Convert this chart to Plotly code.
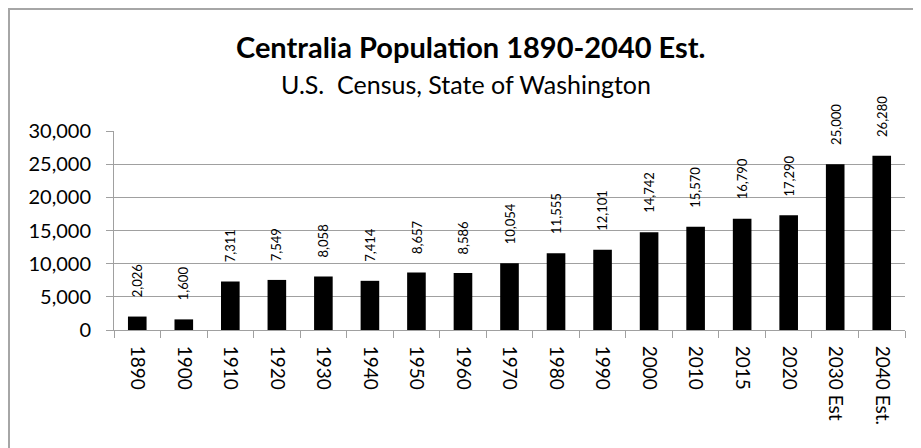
import plotly.graph_objects as go

categories = ["1890", "1900", "1910", "1920", "1930", "1940", "1950", "1960", "1970",
              "1980", "1990", "2000", "2010", "2015", "2020", "2030 Est", "2040 Est."]
population = [2026, 1600, 7311, 7549, 8058, 7414, 8657, 8586, 10054,
              11555, 12101, 14742, 15570, 16790, 17290, 25000, 26280]
y_ticks = [0, 5000, 10000, 15000, 20000, 25000, 30000]

title_text = "Centralia Population 1890-2040 Est."
subtitle_text = "U.S.  Census, State of Washington"

FONT = "Lato"
OFF = 8  # page body margin
W, H = 921 - OFF, 448 - OFF
L, R, T, B = 114 - OFF, 16, 131 - OFF, 118
pw, ph = W - L - R, H - T - B

fig = go.Figure()
fig.add_trace(go.Bar(
    x=categories, y=population,
    marker=dict(color="#000000", line=dict(color="#000000", width=0)),
    hoverinfo="x+y",
))

# data labels: x given as category index on the category axis
for i, v in enumerate(population):
    fig.add_annotation(
        x=i, y=v, xref="x", yref="y",
        text=f"{v:,}", textangle=-90, showarrow=False,
        xanchor="center", yanchor="bottom", yshift=17,
        font=dict(family=FONT, size=13, color="#000000"),
    )

def px_x(px):  # page pixel -> paper
    return (px - OFF - L) / pw

def px_y(py):
    return (H - B - (py - OFF)) / ph

fig.add_annotation(
    x=px_x(471), y=px_y(46), xref="paper", yref="paper",
    text=f"<b>{title_text}</b>", showarrow=False,
    xanchor="center", yanchor="middle",
    font=dict(family=FONT, size=29, color="#000000"),
)
fig.add_annotation(
    x=px_x(466), y=px_y(84), xref="paper", yref="paper",
    text=subtitle_text, showarrow=False,
    xanchor="center", yanchor="middle",
    font=dict(family=FONT, size=25, color="#000000"),
)

fig.add_shape(
    type="rect", xref="paper", yref="paper",
    x0=px_x(9), x1=px_x(940), y0=px_y(9), y1=px_y(470),
    line=dict(color="#A6A6A6", width=2), fillcolor="rgba(0,0,0,0)", layer="below",
)

fig.update_layout(
    width=W, height=H,
    margin=dict(l=L, r=R, t=T, b=B, pad=0),
    paper_bgcolor="#FFFFFF", plot_bgcolor="#FFFFFF",
    bargap=0.6, showlegend=False,
    font=dict(family=FONT, color="#000000"),
    xaxis=dict(
        type="category", categoryorder="array", categoryarray=categories,
        range=[-0.5, len(categories) - 0.5], tickangle=90,
        showline=True, linecolor="#A0A0A0", linewidth=1,
        ticks="outside", ticklen=7, tickcolor="#A0A0A0", tickson="boundaries",
        ticklabelstandoff=11,
        tickfont=dict(family=FONT, size=19, color="#000000"),
        showgrid=False, zeroline=False,
    ),
    yaxis=dict(
        range=[0, 30000], tickvals=y_ticks, tickformat=",",
        showline=True, linecolor="#A0A0A0", linewidth=1,
        ticks="outside", ticklen=7, tickcolor="#A0A0A0",
        ticklabelstandoff=11,
        showgrid=True, gridcolor="#A0A0A0", gridwidth=1,
        zeroline=False,
        tickfont=dict(family=FONT, size=20, color="#000000"),
    ),
)

fig.write_html("out.html")
